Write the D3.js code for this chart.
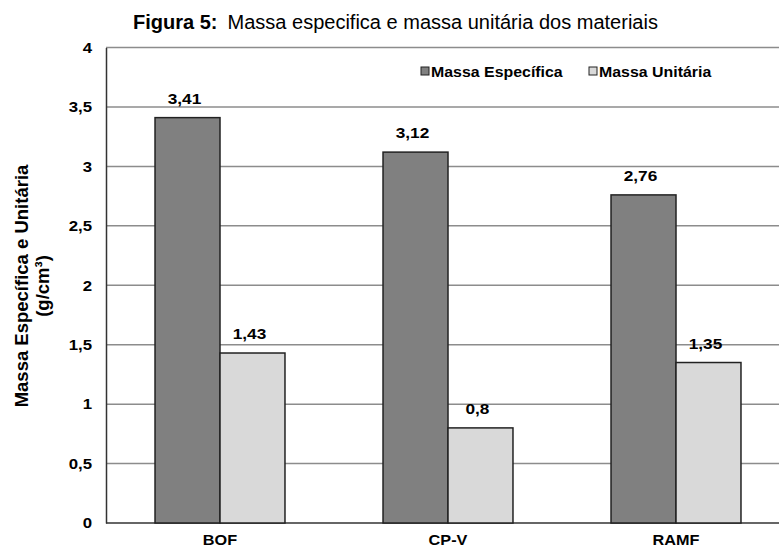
<!DOCTYPE html>
<html><head><meta charset="utf-8">
<script src="https://cdn.jsdelivr.net/npm/d3@7"></script>
<style>body{margin:0;background:#fff;} svg{display:block;font-family:"Liberation Sans",Arial,sans-serif;}</style>
</head><body><svg id="c" width="779" height="548"></svg>
<script>
const categories = ["BOF", "CP-V", "RAMF"];
const seriesNames = ["Massa Específica", "Massa Unitária"];
const especifica = [3.41, 3.12, 2.76];
const unitaria = [1.43, 0.8, 1.35];
const yTicks = [0, 0.5, 1, 1.5, 2, 2.5, 3, 3.5, 4];
const colors = ["#808080", "#d9d9d9"];

const svg = d3.select("#c");
const mLeft = 106, mTop = 47.5, mBottom = 523, mRight = 790;
const fmt = v => String(v).replace(".", ",");
function stretch(sel, k) {
  sel.each(function () {
    const w = this.getComputedTextLength();
    d3.select(this).attr("textLength", w * k).attr("lengthAdjust", "spacingAndGlyphs");
  });
}

const y = d3.scaleLinear().domain([0, 4]).range([mBottom, mTop]);
const x0 = d3.scaleBand().domain(categories).range([mLeft, mRight]).paddingInner(0.43).paddingOuter(0.215);
const x1 = d3.scaleBand().domain(seriesNames).range([0, x0.bandwidth()]);

// title
const t = svg.append("text").attr("x", 133).attr("y", 29).attr("font-size", 20).attr("fill", "#000");
t.append("tspan").attr("font-weight", "bold").text("Figura 5:");
t.append("tspan").attr("dx", 10).text("Massa especifica e massa unitária dos materiais");
stretch(t, 1.02);

// gridlines
svg.append("g").selectAll("line").data(yTicks.filter(d => d > 0)).join("line")
  .attr("x1", mLeft).attr("x2", mRight).attr("y1", d => y(d)).attr("y2", d => y(d))
  .attr("stroke", "#8c8c8c").attr("stroke-width", 1.5);

// y axis
const yAxis = svg.append("g").attr("transform", `translate(${mLeft},0)`)
  .call(d3.axisLeft(y).tickValues(yTicks).tickSize(0).tickPadding(14).tickFormat(fmt));
yAxis.select(".domain").attr("stroke", "#333").attr("stroke-width", 1.5);
yAxis.selectAll("text").attr("font-size", 15).attr("font-weight", "bold").attr("fill", "#000")
  .attr("font-family", "Liberation Sans, Arial, sans-serif").call(stretch, 1.12);

// x axis
const xAxis = svg.append("g").attr("transform", `translate(0,${mBottom})`)
  .call(d3.axisBottom(x0).tickSize(0).tickPadding(12));
xAxis.select(".domain").remove();
svg.append("line").attr("x1", mLeft).attr("x2", mRight).attr("y1", mBottom).attr("y2", mBottom)
  .attr("stroke", "#333").attr("stroke-width", 1.5);
xAxis.selectAll("text").attr("font-size", 14.5).attr("font-weight", "bold").attr("fill", "#000")
  .attr("font-family", "Liberation Sans, Arial, sans-serif").call(stretch, 1.12);

// bars
const data = categories.map((c, i) => ({c, vals: [especifica[i], unitaria[i]]}));
const groups = svg.append("g").selectAll("g").data(data).join("g")
  .attr("transform", d => `translate(${x0(d.c)},0)`);
groups.selectAll("rect").data(d => d.vals.map((v, j) => ({s: seriesNames[j], v, j}))).join("rect")
  .attr("x", d => x1(d.s)).attr("width", x1.bandwidth())
  .attr("y", d => y(d.v)).attr("height", d => y(0) - y(d.v))
  .attr("fill", d => colors[d.j]).attr("stroke", "#222").attr("stroke-width", 1.5);
groups.selectAll("text").data(d => d.vals.map((v, j) => ({s: seriesNames[j], v, j}))).join("text")
  .attr("x", d => x1(d.s) + x1.bandwidth() / 2 - 3).attr("y", d => y(d.v) - 14)
  .attr("text-anchor", "middle").attr("font-size", 15).attr("font-weight", "bold").text(d => fmt(d.v))
  .call(stretch, 1.15);

// legend
const leg = svg.append("g").attr("transform", "translate(421,71)");
const legX = [0, 168];
seriesNames.forEach((s, i) => {
  const g = leg.append("g").attr("transform", `translate(${legX[i]},0)`);
  g.append("rect").attr("x", 0).attr("y", -4).attr("width", 8).attr("height", 8)
    .attr("fill", colors[i]).attr("stroke", "#222").attr("stroke-width", 1);
  g.append("text").attr("x", 10).attr("y", 5.5).attr("font-size", 15).attr("font-weight", "bold").text(s)
    .call(stretch, 1.06);
});

// y title
const yt = svg.append("text").attr("transform", "translate(0,286) rotate(-90)")
  .attr("text-anchor", "middle").attr("font-size", 18.5).attr("font-weight", "bold");
yt.append("tspan").attr("x", 0).attr("y", 28).text("Massa Específica e Unitária");
yt.append("tspan").attr("x", 0).attr("y", 49).text("(g/cm³)");
</script></body></html>
